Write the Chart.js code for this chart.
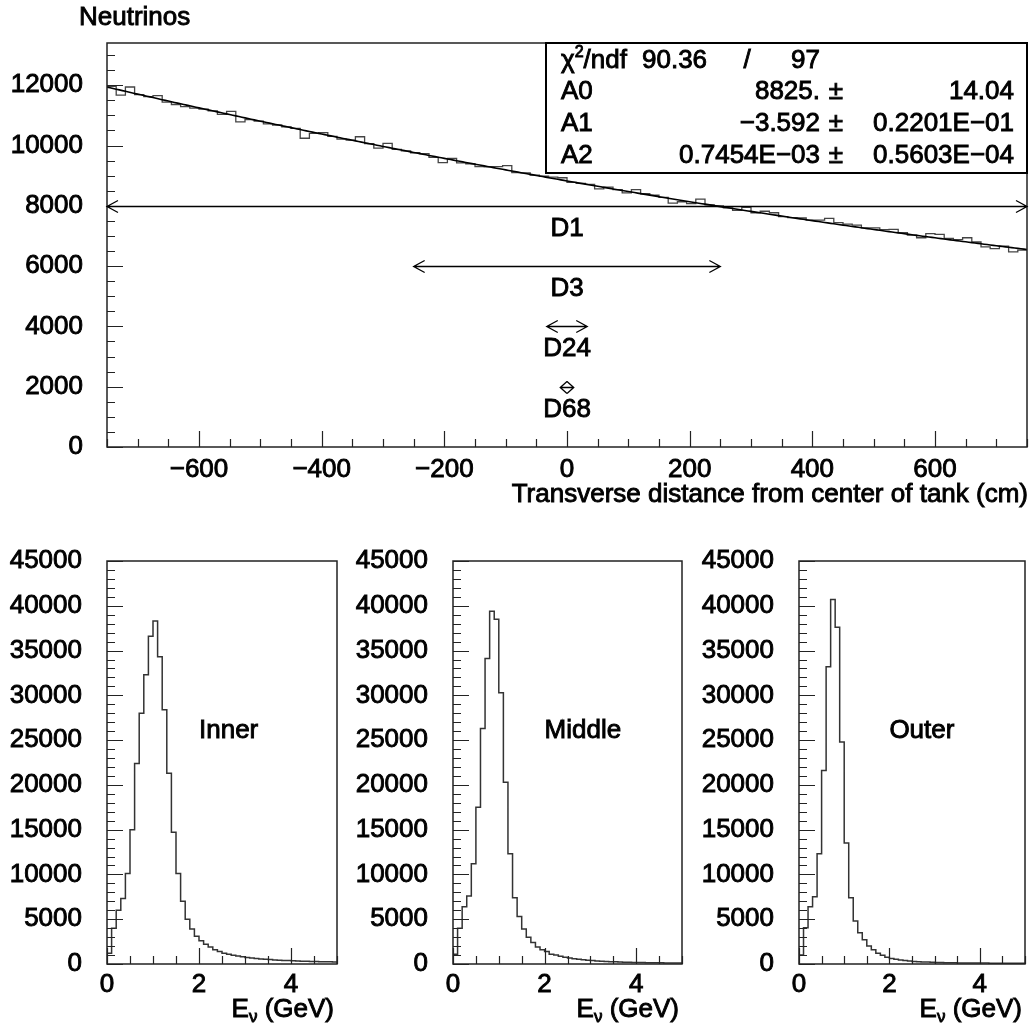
<!DOCTYPE html>
<html>
<head>
<meta charset="utf-8">
<script src="https://cdn.jsdelivr.net/npm/chart.js@4.4.0/dist/chart.umd.min.js"></script>
<style>
  html, body { margin: 0; padding: 0; background: #fff; }
  #page { position: relative; width: 1033px; height: 1031px; overflow: hidden; }
  canvas { position: absolute; }
</style>
</head>
<body>
<div id="page">
  <canvas id="profile" width="1033" height="515" style="left:0;top:0"></canvas>
  <canvas id="inner" width="346" height="511" style="left:0;top:520px"></canvas>
  <canvas id="middle" width="346" height="511" style="left:346px;top:520px"></canvas>
  <canvas id="outer" width="341" height="511" style="left:692px;top:520px"></canvas>
</div>
<script>
const FONT = "'Liberation Sans', Arial, sans-serif";
const TEXT_STROKE = 0.9;
Chart.defaults.font.family = FONT;
Chart.defaults.font.size = 26;
Chart.defaults.color = '#000';

// transverse profile: 100 bins of 15 cm
const profileLow = -750, profileHigh = 750, profileBin = 15;
const profileCounts = [
  11960, 11670, 11940, 11690, 11620, 11655, 11440, 11360, 11290, 11240,
  11210, 11150, 11030, 11135, 10785, 10860, 10810, 10720, 10680, 10620,
  10570, 10240, 10400, 10425, 10300, 10210, 10180, 10290, 10060, 9910,
  10070, 9870, 9820, 9760, 9730, 9605, 9430, 9570, 9425, 9395,
  9297, 9295, 9300, 9330, 9100, 9090, 9016, 8980, 8950, 8930,
  8780, 8744, 8710, 8560, 8620, 8540, 8430, 8540, 8400, 8350,
  8277, 8090, 8135, 8075, 8220, 8030, 7995, 7930, 7850, 7950,
  7770, 7820, 7770, 7640, 7610, 7595, 7525, 7525, 7580, 7440,
  7390, 7360, 7270, 7270, 7210, 7220, 7110, 7030, 6940, 7080,
  7050, 6915, 6880, 6940, 6800, 6640, 6580, 6665, 6470, 6530
];
const profileXTicks = [-600, -400, -200, 0, 200, 400, 600];
const profileYTicks = [0, 2000, 4000, 6000, 8000, 10000, 12000];
const profileYMax = 13400;

// quadratic fit A0 + A1*x + A2*x^2
const fitNames = ['A0', 'A1', 'A2'];
const fitValues = [8825, -3.592, 0.7454e-3];
const fitErrors = [14.04, 0.2201e-1, 0.5603e-4];
const fitChi2 = 90.36;
const fitNdf = 97;

// divergence markers centred on the beam axis
const markerNames = ['D1', 'D3', 'D24', 'D68'];
const markerHalfWidths = [750, 250, 33, 11];
const markerLevels = [8000, 6000, 4000, 2000];

// energy spectra: 50 bins of 0.1 GeV
const energyLow = 0, energyHigh = 5, energyBin = 0.1;
const regionNames = ['Inner', 'Middle', 'Outer'];
const innerCounts = [
  1200, 4000, 6000, 7300, 10100, 15000, 22400, 28000, 32300, 36600,
  38300, 34300, 28400, 21300, 14700, 10100, 7000, 5000, 3900, 3100,
  2600, 2200, 1900, 1600, 1400, 1200, 1080, 980, 890, 800,
  730, 670, 620, 570, 530, 490, 460, 430, 400, 380,
  360, 340, 320, 300, 290, 270, 260, 250, 240, 230
];
const middleCounts = [
  1100, 4000, 6400, 7600, 11200, 17500, 26300, 34100, 39400, 38500,
  30300, 20300, 12300, 7400, 5300, 3900, 3000, 2400, 1900, 1600,
  1400, 1100, 1000, 870, 760, 670, 590, 530, 470, 420,
  380, 340, 310, 280, 260, 240, 220, 200, 190, 180,
  170, 160, 150, 140, 135, 130, 125, 120, 115, 110
];
const outerCounts = [
  1000, 4050, 6400, 7500, 12300, 21600, 33200, 40700, 37600, 24800,
  13500, 7400, 4800, 3500, 2700, 2000, 1600, 1200, 970, 750,
  620, 520, 450, 380, 330, 290, 260, 230, 210, 190,
  170, 160, 150, 140, 130, 120, 120, 110, 110, 100,
  100, 100, 90, 90, 90, 80, 80, 80, 80, 70
];
const energyXTicks = [0, 2, 4];
const energyYTicks = [0, 5000, 10000, 15000, 20000, 25000, 30000, 35000, 40000, 45000];
const energyYMax = 45000;

// histogram outline: one point per left bin edge plus the closing edge
function stepPoints(counts, low, width, high) {
  const pts = counts.map((c, i) => ({ x: low + i * width, y: c }));
  pts.push({ x: high, y: counts[counts.length - 1] });
  return pts;
}

function fitCurve(x) {
  return fitValues[0] + fitValues[1] * x + fitValues[2] * x * x;
}

// PAW style number: 4 significant digits, E notation below 1
function pawNumber(v) {
  const a = Math.abs(v);
  let s;
  if (a >= 1) {
    s = a.toPrecision(4);
    if (s.indexOf('.') < 0) s += '.';
  } else {
    const e = Math.floor(Math.log10(a)) + 1;
    const m = (a / Math.pow(10, e)).toFixed(4);
    s = m + 'E' + (e < 0 ? '−' : '+') + String(Math.abs(e)).padStart(2, '0');
  }
  return (v < 0 ? '−' : '') + s;
}

const plain = v => String(v).replace('-', '−');

// filled text with a hairline outline so glyphs look as heavy as the axis labels
function heavyText(ctx, str, x, y) {
  ctx.fillText(str, x, y);
  ctx.lineWidth = TEXT_STROKE;
  ctx.strokeStyle = '#000';
  ctx.strokeText(str, x, y);
}

// frame plus inward minor/major ticks
function frameTicks(id, xMinor, xMajor, yMinor, yMajor) {
  return {
    id: id,
    afterDatasetsDraw(chart) {
      const { ctx, chartArea: a, scales: { x, y } } = chart;
      ctx.save();
      ctx.strokeStyle = '#222';
      ctx.lineWidth = 1.5;
      ctx.strokeRect(a.left, a.top, a.right - a.left, a.bottom - a.top);
      ctx.lineWidth = 1.2;
      ctx.beginPath();
      for (let n = Math.ceil(x.min / xMinor); n * xMinor <= x.max + 1e-9; n++) {
        const v = n * xMinor;
        const r = v / xMajor;
        const len = Math.abs(r - Math.round(r)) < 1e-6 ? 16 : 8;
        const px = Math.round(x.getPixelForValue(v)) + 0.5;
        ctx.moveTo(px, a.bottom);
        ctx.lineTo(px, a.bottom - len);
      }
      for (let n = Math.ceil(y.min / yMinor); n * yMinor <= y.max + 1e-9; n++) {
        const v = n * yMinor;
        const r = v / yMajor;
        const len = Math.abs(r - Math.round(r)) < 1e-6 ? 16 : 8;
        const py = Math.round(y.getPixelForValue(v)) + 0.5;
        ctx.moveTo(a.left, py);
        ctx.lineTo(a.left + len, py);
      }
      ctx.stroke();
      ctx.restore();
    }
  };
}

function arrow(ctx, x1, x2, y) {
  const hx = Math.min(11, (x2 - x1) / 2), hy = 6;
  ctx.beginPath();
  ctx.moveTo(x1, y); ctx.lineTo(x2, y);
  ctx.moveTo(x1 + hx, y - hy); ctx.lineTo(x1, y); ctx.lineTo(x1 + hx, y + hy);
  ctx.moveTo(x2 - hx, y - hy); ctx.lineTo(x2, y); ctx.lineTo(x2 - hx, y + hy);
  ctx.stroke();
}

const profileDecor = {
  id: 'profileDecor',
  afterDraw(chart) {
    const { ctx, chartArea: a, scales: { x, y } } = chart;
    ctx.save();
    ctx.fillStyle = '#000';
    ctx.font = '26px ' + FONT;
    ctx.textBaseline = 'middle';

    ctx.textAlign = 'left';
    heavyText(ctx, 'Neutrinos', 79, 18);
    ctx.textAlign = 'right';
    heavyText(ctx, 'Transverse distance from center of tank (cm)', a.right + 1, 495);

    // divergence arrows
    ctx.textAlign = 'center';
    markerNames.forEach((name, i) => {
      const py = Math.round(y.getPixelForValue(markerLevels[i])) + 0.5;
      ctx.strokeStyle = '#000';
      ctx.lineWidth = 1.3;
      arrow(ctx, x.getPixelForValue(-markerHalfWidths[i]), x.getPixelForValue(markerHalfWidths[i]), py);
      heavyText(ctx, name, x.getPixelForValue(0), py + 22);
    });

    // fit statistics box
    const bx = 546, by = a.top, bw = a.right - bx, bh = 130;
    ctx.fillStyle = '#fff';
    ctx.fillRect(bx, by, bw, bh);
    ctx.strokeStyle = '#000';
    ctx.lineWidth = 2;
    ctx.strokeRect(bx, by, bw, bh);
    ctx.fillStyle = '#000';
    const labelX = 561, valueX = 820, pmX = 836, errX = 1014;
    let ry = by + 18;
    ctx.textAlign = 'left';
    heavyText(ctx, 'χ', labelX, ry);
    let cx = labelX + ctx.measureText('χ').width;
    ctx.font = '16px ' + FONT;
    heavyText(ctx, '2', cx, ry - 8);
    cx += ctx.measureText('2').width;
    ctx.font = '26px ' + FONT;
    heavyText(ctx, '/ndf', cx, ry);
    heavyText(ctx, pawNumber(fitChi2), 642, ry);
    ctx.textAlign = 'center';
    heavyText(ctx, '/', 747, ry);
    ctx.textAlign = 'right';
    heavyText(ctx, String(fitNdf), valueX, ry);
    fitNames.forEach((name, i) => {
      ry = by + 49 + i * 32;
      ctx.textAlign = 'left';
      heavyText(ctx, name, labelX, ry);
      ctx.textAlign = 'right';
      heavyText(ctx, pawNumber(fitValues[i]), valueX, ry);
      ctx.textAlign = 'center';
      heavyText(ctx, '±', pmX, ry);
      ctx.textAlign = 'right';
      heavyText(ctx, pawNumber(fitErrors[i]), errX, ry);
    });
    ctx.restore();
  }
};

const fitPoints = [];
for (let xv = profileLow; xv <= profileHigh; xv += 5) fitPoints.push({ x: xv, y: fitCurve(xv) });

const tickFont = { textStrokeWidth: TEXT_STROKE, textStrokeColor: '#000' };

new Chart(document.getElementById('profile'), {
  type: 'line',
  data: {
    datasets: [
      {
        data: fitPoints,
        borderColor: '#000',
        borderWidth: 1.6,
        pointRadius: 0,
        tension: 0
      },
      {
        data: stepPoints(profileCounts, profileLow, profileBin, profileHigh),
        stepped: 'before',
        borderColor: '#444',
        borderWidth: 1.3,
        pointRadius: 0
      }
    ]
  },
  options: {
    responsive: false,
    animation: false,
    layout: { padding: { top: 43, right: 6, bottom: 0, left: 0 } },
    plugins: { legend: { display: false }, tooltip: { enabled: false } },
    scales: {
      x: {
        type: 'linear',
        min: profileLow,
        max: profileHigh,
        grid: { display: false, drawTicks: false },
        border: { display: false },
        afterBuildTicks: s => { s.ticks = profileXTicks.map(v => ({ value: v })); },
        afterFit: s => { s.height = 68; },
        ticks: { padding: 7, maxRotation: 0, callback: plain, ...tickFont }
      },
      y: {
        min: 0,
        max: profileYMax,
        grid: { display: false, drawTicks: false },
        border: { display: false },
        afterBuildTicks: s => { s.ticks = profileYTicks.map(v => ({ value: v })); },
        afterFit: s => { s.width = 107; },
        ticks: { padding: 24, callback: plain, ...tickFont }
      }
    }
  },
  plugins: [frameTicks('profileTicks', 50, 200, 500, 2000), profileDecor]
});

// energy spectrum panels
const panelCanvases = ['inner', 'middle', 'outer'];
const panelCounts = [innerCounts, middleCounts, outerCounts];
const panelRightPad = [9, 10, 8];

panelCanvases.forEach((canvasId, p) => {
  const decor = {
    id: 'energyDecor' + p,
    afterDraw(chart) {
      const { ctx, chartArea: a, scales: { x, y } } = chart;
      ctx.save();
      ctx.fillStyle = '#000';
      ctx.font = '26px ' + FONT;
      ctx.textBaseline = 'middle';
      ctx.textAlign = 'left';
      heavyText(ctx, regionNames[p], x.getPixelForValue(2.0), y.getPixelForValue(26000));

      // E_nu (GeV), right aligned under the axis
      const ty = 490;
      const tail = ' (GeV)';
      const wTail = ctx.measureText(tail).width;
      const wE = ctx.measureText('E').width;
      ctx.font = '17px ' + FONT;
      const wNu = ctx.measureText('ν').width;
      let tx = a.right - 3 - wTail - wNu - wE;
      ctx.font = '26px ' + FONT;
      heavyText(ctx, 'E', tx, ty);
      tx += wE;
      ctx.font = '17px ' + FONT;
      heavyText(ctx, 'ν', tx, ty + 7);
      tx += wNu;
      ctx.font = '26px ' + FONT;
      heavyText(ctx, tail, tx, ty);
      ctx.restore();
    }
  };

  new Chart(document.getElementById(canvasId), {
    type: 'line',
    data: {
      datasets: [{
        data: stepPoints(panelCounts[p], energyLow, energyBin, energyHigh),
        stepped: 'before',
        borderColor: '#333',
        borderWidth: 1.5,
        pointRadius: 0
      }]
    },
    options: {
      responsive: false,
      animation: false,
      layout: { padding: { top: 41, right: panelRightPad[p], bottom: 0, left: 0 } },
      plugins: { legend: { display: false }, tooltip: { enabled: false } },
      scales: {
        x: {
          type: 'linear',
          min: energyLow,
          max: energyHigh,
          grid: { display: false, drawTicks: false },
          border: { display: false },
          afterBuildTicks: s => { s.ticks = energyXTicks.map(v => ({ value: v })); },
          afterFit: s => { s.height = 67; },
          ticks: { padding: 5, maxRotation: 0, callback: plain, ...tickFont }
        },
        y: {
          min: 0,
          max: energyYMax,
          grid: { display: false, drawTicks: false },
          border: { display: false },
          afterBuildTicks: s => { s.ticks = energyYTicks.map(v => ({ value: v })); },
          afterFit: s => { s.width = 107; },
          ticks: { padding: 25, callback: plain, ...tickFont }
        }
      }
    },
    plugins: [frameTicks('energyTicks' + p, 0.5, 2, 1000, 5000), decor]
  });
});
</script>
</body>
</html>
